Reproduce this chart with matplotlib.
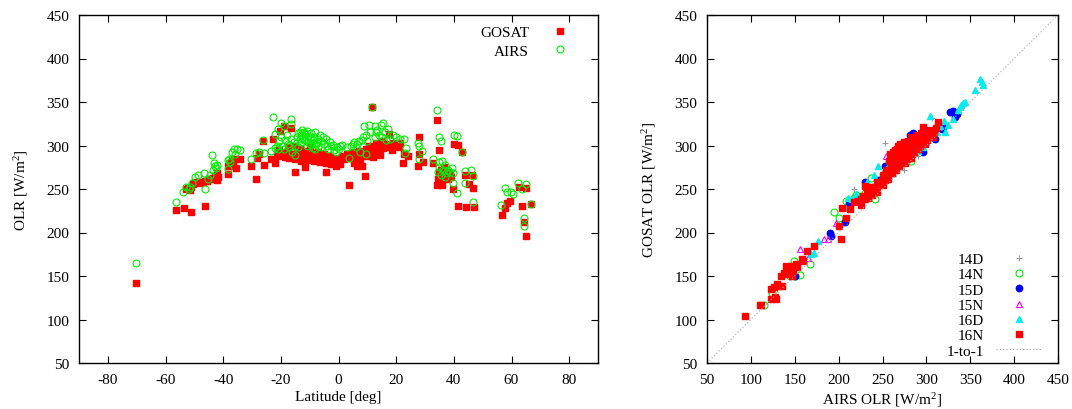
import numpy as np
import matplotlib
matplotlib.use("Agg")
import matplotlib.pyplot as plt

plt.rcParams['font.family'] = ['Liberation Serif', 'DejaVu Serif']
plt.rcParams['mathtext.fontset'] = 'custom'
plt.rcParams['mathtext.rm'] = 'Liberation Serif'
plt.rcParams['mathtext.it'] = 'Liberation Serif:italic'
plt.rcParams['axes.unicode_minus'] = False
plt.rcParams['font.size'] = 11

# left panel: (latitude, OLR)
gosat = [
    (-70.1, 142), (-56.5, 226), (-53.6, 228), (-51, 223), (-46.2, 230),
    (-53, 250), (-52.3, 251), (-51.5, 249), (-51, 252), (-50.5, 256), (-50, 257), (-49.3, 258),
    (-48.5, 257), (-47.8, 258), (-47, 258), (-46.3, 259), (-45.5, 259), (-44.8, 261), (-44, 262),
    (-43.5, 263), (-43, 265), (-42.5, 262), (-42.2, 268), (-42, 260), (-41.8, 264),
    (-38.2, 267), (-38.2, 277), (-37.5, 280), (-37, 283), (-36.5, 276), (-35.6, 274), (-35.8, 285), (-34.3, 285),
    (-30.3, 277), (-28.7, 261), (-28.2, 286), (-27.5, 290), (-26, 278), (-26.3, 305), (-23.4, 284),
    (-22.7, 307), (-22, 280), (-21.5, 290),
    (-21, 288), (-20.5, 295), (-20.3, 317), (-19.5, 291), (-19, 322), (-18.5, 287), (-18, 293), (-17.5, 298),
    (-17, 286), (-16.4, 320), (-16, 290), (-15.5, 300), (-15, 270), (-15, 284), (-14.5, 292), (-14, 288),
    (-13.5, 296), (-13, 282), (-12.5, 290), (-12, 286), (-11.7, 275), (-11.5, 294), (-11, 283), (-10.5, 289),
    (-10, 298), (-9.5, 285), (-9, 291), (-8.5, 282), (-8, 288), (-7.5, 284), (-7, 293), (-6.5, 281),
    (-6, 287), (-5.5, 283), (-5, 290), (-4.4, 269), (-4.5, 280), (-4, 286), (-3.5, 282), (-3, 288),
    (-2.5, 279), (-2, 284), (-1.5, 281), (-1, 276), (-0.5, 286), (0, 283), (0.5, 279), (1, 285),
    (1.5, 288), (2, 284), (3, 290), (3.8, 255), (4.5, 286), (5, 292), (5.5, 280), (6, 288), (6.5, 276),
    (7, 294), (7.5, 282), (8.2, 277), (8.5, 290), (9.1, 265), (9.5, 296), (10, 288), (10.5, 300), (11, 293),
    (11.7, 344), (12, 287), (12.5, 298), (13, 303), (13.5, 292), (14, 300), (14.5, 289), (15, 305),
    (15.5, 297), (16, 302), (17.4, 313), (17, 298), (18, 300), (18.5, 295), (19, 303), (20, 300),
    (21, 298), (21.5, 303),
    (22.5, 280), (22.7, 290), (24, 288), (27.4, 277), (27.8, 290), (28.0, 310), (29.4, 281),
    (32.7, 280), (34.3, 329), (35, 295), (34, 255), (36, 255), (34.5, 262), (35, 268), (35.5, 272),
    (36, 260), (36.5, 275), (37, 265), (37.5, 270), (38, 262), (38.5, 268), (39, 264), (34.8, 258),
    (39.7, 250), (40.2, 302), (41.5, 301), (41.5, 230), (43, 293), (44.2, 229), (43.7, 266),
    (45.3, 256), (46.6, 251), (47, 229), (46.3, 266),
    (56.7, 220), (57.9, 228), (58.5, 234), (59.6, 236), (62.5, 252), (63.6, 230), (64.5, 212),
    (64.9, 196), (65.1, 251), (66.9, 233),
]
airs = [
    (-70.1, 164.5), (-56.5, 234.5), (-53.8, 247), (-53, 252), (-52, 250), (-51.5, 252), (-50.8, 257),
    (-49.9, 264), (-48.8, 266), (-46.6, 268), (-46.2, 250), (-45.1, 262), (-44.5, 266), (-44, 289),
    (-43.5, 272), (-43.3, 280), (-43, 276), (-42.2, 278), (-42.5, 274),
    (-38.2, 283), (-38, 285), (-37.5, 281), (-36.9, 293), (-36.4, 296), (-35.3, 296), (-34.1, 295),
    (-38.2, 273), (-35.8, 290),
    (-30.3, 284), (-28.7, 291), (-27.6, 293), (-26.3, 306), (-26, 291),
    (-23.4, 294), (-22.6, 333), (-22.1, 313), (-21, 319), (-20, 326), (-19, 322), (-16.4, 330), (-16.4, 325),
    (-22, 297), (-21.5, 300), (-21, 296), (-20.5, 305), (-20, 310), (-19.5, 300), (-19, 296), (-18.5, 306),
    (-18, 312), (-17.5, 302), (-17, 298), (-16.5, 308), (-16, 292), (-15.5, 304), (-15, 300), (-15, 289),
    (-14.5, 310), (-14, 314), (-13.5, 316), (-13, 312), (-12.5, 318), (-12, 316), (-11.5, 313), (-11, 317),
    (-10.5, 311), (-10, 309), (-9.5, 314), (-9, 306), (-8.5, 310), (-8, 315), (-7.5, 303), (-7, 308),
    (-6.5, 312), (-6, 305), (-5.5, 310), (-5, 302), (-4.5, 307), (-4, 300), (-3.5, 296), (-3, 304),
    (-2.5, 299), (-2, 301), (-1.5, 295), (-1, 293), (-0.5, 298), (0, 296), (0.5, 300), (-13, 304),
    (-11, 300), (-9, 297), (-7, 300), (-14, 298), (-12, 306), (-10, 302), (-8, 296), (-6, 298),
    (-12.5, 309), (-11.5, 307), (-10.5, 304), (-9.5, 301), (-13.5, 308), (-8.5, 303),
    (1.1, 301), (2.8, 298), (3.8, 286), (4.5, 300), (5, 302), (5.5, 304), (6, 298), (6.5, 302), (7, 305),
    (7.5, 292), (8, 306), (8.9, 322), (8.5, 310), (9.5, 312), (9.5, 290), (10, 305), (10.6, 324),
    (11, 316), (11.7, 344), (12.8, 322), (12.5, 310), (13, 315), (13.5, 318), (14, 312), (14.8, 324),
    (15.5, 326), (15, 310), (16, 316), (16.5, 306), (17.2, 319), (18, 308), (18.8, 312), (19.8, 310),
    (21.4, 308), (22.7, 307), (23.1, 291), (23.3, 297),
    (27.4, 303), (28, 299), (27.8, 284), (29.1, 294),
    (32.7, 284), (34.3, 341), (35, 310), (35.7, 305), (34.8, 281), (36, 282), (34.5, 270), (35, 275),
    (35.5, 266), (36.2, 272), (36.8, 278), (37.3, 268), (38, 272), (38.6, 270), (39.2, 274), (39.6, 268),
    (37, 264),
    (39.7, 257), (40.2, 312), (41.2, 311), (41.2, 245), (43, 292), (43.7, 271), (44, 257), (46, 272),
    (46.6, 265), (46.6, 235),
    (56.3, 232), (57.6, 251), (58.3, 246), (59.8, 247), (60.5, 244), (62.3, 257), (63.6, 250),
    (64.5, 217), (64.5, 208), (65, 256), (66.9, 233),
]

# right panel: (AIRS OLR, GOSAT OLR)
d14 = [(306, 331.5), (218, 250), (275, 272), (252.5, 303), (222, 234), (290, 288), (300, 310),
       (245, 255), (200, 210), (160, 170), (130, 135), (265, 282)]
n14 = [(115, 117), (124.5, 131), (148.6, 167), (156, 151), (167.5, 164), (150, 150), (145, 150),
       (195, 224), (200, 217), (208, 236), (218, 240), (237, 263), (241, 238), (283, 282), (256, 269),
       (230, 245), (220, 243), (270, 286), (290, 300)]
d15 = [(190.6, 200), (191, 196), (212, 234), (229.6, 257.5), (232, 254), (281, 312), (296, 292),
       (327, 338), (333, 333), (335, 336), (330, 340), (317.5, 319), (252.5, 277), (245, 260),
       (238, 248), (285, 314), (300, 318), (320, 322), (310, 308), (290, 300), (270, 289), (275, 284),
       (222, 237), (150, 150), (207, 212)]
n15 = [(156, 181), (165, 171), (183, 192), (187.5, 193), (197, 211), (254.5, 288), (218, 237),
       (262, 283), (280, 292)]
d16 = [(361, 376), (363, 373), (365, 369), (355.6, 364), (340, 346), (342, 349), (344, 350),
       (338, 344), (336, 341), (321, 316), (245, 277), (172, 177), (168, 175), (176, 190), (207, 228),
       (210.8, 239.5), (215, 238), (220, 244), (232, 258), (240, 266), (250, 270), (255, 274),
       (262, 268), (270, 278), (276, 282), (282, 288), (290, 294), (296, 298), (300, 304), (304, 334),
       (308, 310), (312, 315), (316, 322), (320, 328), (325, 324), (330, 330), (260, 290), (248, 262),
       (235, 250), (286, 309), (294, 316)]
n16 = [(92.8, 103.6), (110, 117), (111, 116.5), (123.4, 124), (129, 124), (127, 126), (123, 135),
       (126, 137), (132, 139), (136, 138), (130, 141), (134, 150), (138, 153), (140, 152), (140, 162),
       (143, 158), (145.5, 162), (147, 150), (148, 156), (151, 164), (153, 160), (159, 167), (158, 169),
       (164, 179), (172, 185), (200, 207), (204, 228), (203, 193), (208.5, 217), (213.5, 227),
       (218, 234.5), (222, 236), (225, 232), (228, 242), (229.5, 254), (230, 238), (233, 240),
       (235, 245), (237, 248), (238, 243), (240, 250), (242, 252), (244, 247), (246, 256), (248, 258),
       (250, 255), (251, 262), (253, 260), (255, 266), (256, 262), (258, 270), (259, 290), (260, 275),
       (261, 268), (262, 285), (263, 279), (264, 295), (265, 272), (266, 288), (267, 281), (268, 300),
       (269, 276), (270, 292), (271, 286), (272, 298), (273, 283), (274, 304), (275, 290), (276, 280),
       (277, 296), (278, 288), (279, 305), (280, 293), (281, 300), (282, 286), (283, 310), (284, 296),
       (285, 302), (286, 292), (287, 306), (288, 298), (289, 312), (290, 303), (291, 296), (292, 308),
       (293, 300), (294, 314), (295, 305), (296, 321), (297, 310), (298, 302), (300, 316), (301, 306),
       (303, 312), (305, 318), (307, 310), (309, 316), (311, 320), (313.6, 327), (270, 302), (266, 296),
       (262, 292), (257, 282), (263, 288), (269, 294), (276, 300), (282, 306), (288, 310),
       (294, 310), (300, 312), (278, 284), (272, 280), (284, 290), (290, 296), (265, 279),
       (232, 246), (236, 252), (244, 258), (250, 266), (254, 272), (226, 238)]

fig = plt.figure(figsize=(10.72, 4.10), dpi=100)
ax1 = fig.add_axes([79/1072, 1-364/410, 519/1072, 348/410])
ax2 = fig.add_axes([707/1072, 1-364/410, 351/1072, 348/410])

def style(ax):
    ax.tick_params(direction='in', top=True, right=True, length=5, width=0.8, labelsize=11, pad=7)
    for s in ax.spines.values():
        s.set_linewidth(1.0)

g = np.array(gosat).T
a = np.array(airs).T
ax1.plot(g[0], g[1], 's', color='#ff0000', ms=4.3, mec='#ff0000', ls='none', label='GOSAT')
ax1.plot(a[0], a[1], 'o', color='#00ee00', ms=5, mfc='none', mew=0.8, ls='none', label='AIRS')
ax1.set_xlim(-90, 90)
ax1.set_ylim(50, 450)
ax1.set_xticks(range(-80, 81, 20))
ax1.set_yticks(range(50, 451, 50))
ax1.set_xlabel('Latitude [deg]', labelpad=3)
ax1.set_ylabel('OLR [W/m$^{2}$]', labelpad=12)
style(ax1)
ax1.legend(loc='upper right', bbox_to_anchor=(0.97, 1.0), markerfirst=False, frameon=False,
           handlelength=1.5, handletextpad=1.3, borderaxespad=0.3, labelspacing=0.3, fontsize=11)

series = [
    (d14, '14D', dict(marker='+', color='#999999', ms=5, mew=0.7)),
    (n14, '14N', dict(marker='o', color='#00ee00', mfc='none', ms=5, mew=0.8)),
    (d15, '15D', dict(marker='o', color='#0000ff', ms=4.6)),
    (n15, '15N', dict(marker='^', color='#ff00ff', mfc='none', ms=5, mew=0.8)),
    (d16, '16D', dict(marker='^', color='#00eeee', ms=4.6)),
    (n16, '16N', dict(marker='s', color='#ff0000', ms=4.6)),
]
for pts, lab, kw in series:
    p = np.array(pts).T
    ax2.plot(p[0], p[1], ls='none', label=lab, **kw)
ax2.plot([50, 450], [50, 450], ls=(0, (1, 2)), color='#aaaaaa', lw=0.8, label='1-to-1')
ax2.set_xlim(50, 450)
ax2.set_ylim(50, 450)
ax2.set_xticks(range(50, 451, 50))
ax2.set_yticks(range(50, 451, 50))
ax2.set_xlabel('AIRS OLR [W/m$^{2}$]', labelpad=3)
ax2.set_ylabel('GOSAT OLR [W/m$^{2}$]', labelpad=12)
style(ax2)
ax2.legend(loc='lower right', bbox_to_anchor=(0.985, -0.015), markerfirst=False, frameon=False,
           handlelength=3.0, handletextpad=0.8, borderaxespad=0.3, labelspacing=0.1, fontsize=11)

fig.savefig('out.png', dpi=100)
